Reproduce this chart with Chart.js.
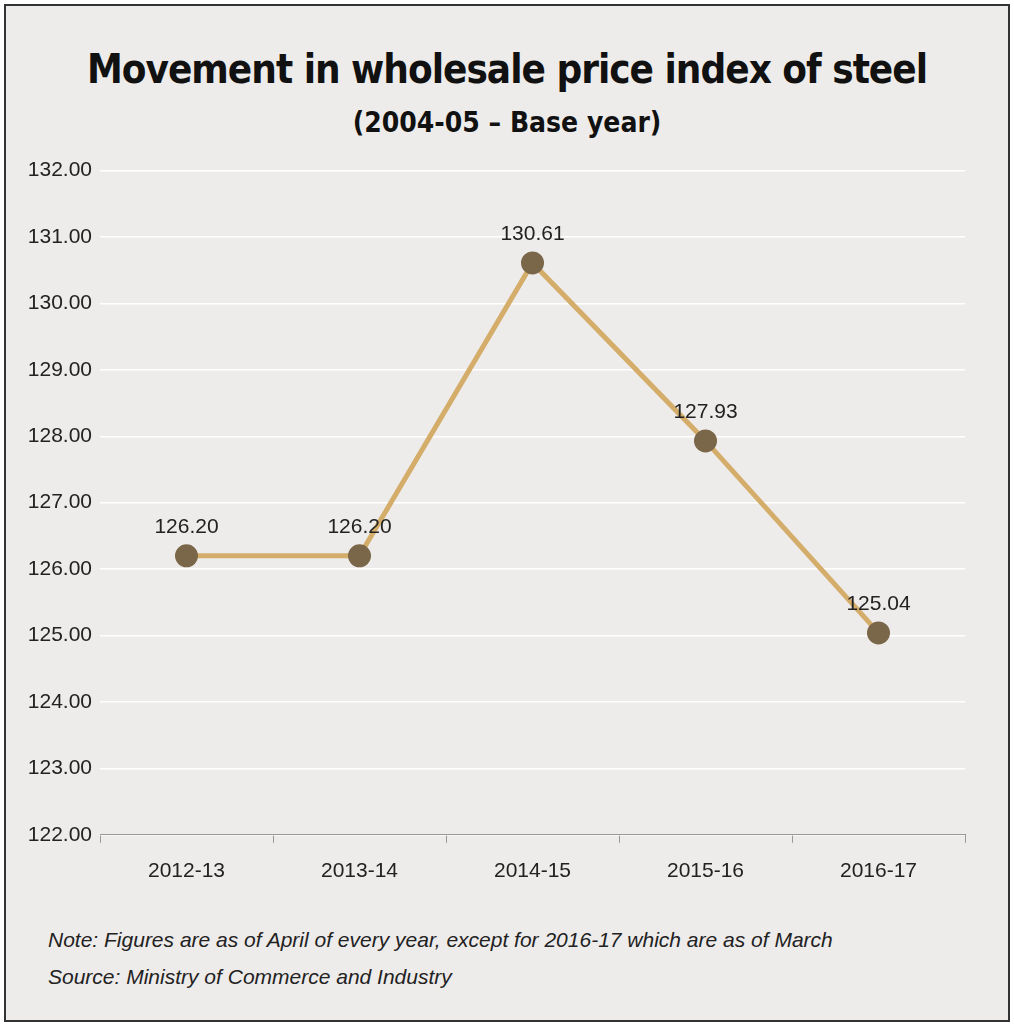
<!DOCTYPE html>
<html>
<head>
<script src="https://cdn.jsdelivr.net/npm/chart.js"></script>
<style>
  body { margin: 0; background: #fff; }
  .frame { position: absolute; left: 4px; top: 4px; width: 1002px; height: 1014px; border: 2px solid #333; background: #eeeceb; }
  h1 { position: absolute; left: 0; width: 1014px; top: 46px; margin: 0; text-align: center; font: bold 40px "DejaVu Sans Condensed", "DejaVu Sans"; letter-spacing: -1px; color: #111; }
  h2 { position: absolute; left: 0; width: 1014px; top: 106px; margin: 0; text-align: center; font: bold 28px "DejaVu Sans Condensed", "DejaVu Sans"; color: #111; }
  .note { position: absolute; left: 48px; font: italic 21px "Liberation Sans", Arial; color: #222; }
  .wrap { position: absolute; left: 0; top: 150px; width: 1014px; height: 750px; }
</style>
</head>
<body>
<div class="frame"></div>
<h1>Movement in wholesale price index of steel</h1>
<h2>(2004-05 – Base year)</h2>
<div class="wrap"><canvas id="c"></canvas></div>
<div class="note" style="top:928px">Note: Figures are as of April of every year, except for 2016-17 which are as of March</div>
<div class="note" style="top:965px">Source: Ministry of Commerce and Industry</div>
<script>
const years = ['2012-13', '2013-14', '2014-15', '2015-16', '2016-17'];
const wpi = [126.20, 126.20, 130.61, 127.93, 125.04];

const valueLabels = {
  id: 'valueLabels',
  afterDatasetsDraw(chart) {
    const ctx = chart.ctx;
    const meta = chart.getDatasetMeta(0);
    ctx.save();
    ctx.font = '21px "Liberation Sans", Arial';
    ctx.fillStyle = '#222';
    ctx.textAlign = 'center';
    ctx.textBaseline = 'bottom';
    meta.data.forEach((p, i) => ctx.fillText(wpi[i].toFixed(2), p.x, p.y - 18));
    ctx.restore();
  }
};

new Chart(document.getElementById('c'), {
  type: 'line',
  data: {
    labels: years,
    datasets: [{
      data: wpi,
      borderColor: '#d4ad6a',
      borderWidth: 5,
      pointBackgroundColor: '#7a6648',
      pointBorderColor: '#7a6648',
      pointRadius: 9,
      tension: 0
    }]
  },
  options: {
    responsive: true,
    maintainAspectRatio: false,
    animation: false,
    layout: { padding: { top: 5, right: 49, left: 0, bottom: 0 } },
    plugins: { legend: { display: false }, tooltip: { enabled: false } },
    scales: {
      x: {
        offset: true,
        grid: { offset: true, drawOnChartArea: false, color: '#999', tickLength: 8 },
        border: { color: '#999' },
        ticks: { color: '#222', font: { size: 21, family: '"Liberation Sans", Arial' }, padding: 16 }
      },
      y: {
        min: 122, max: 132,
        afterFit(s) { s.width = 100; },
        grid: { color: '#fff', lineWidth: 1.5, drawTicks: false },
        border: { display: false },
        ticks: { stepSize: 1, color: '#222', padding: 8, font: { size: 21, family: '"Liberation Sans", Arial' }, callback: v => v.toFixed(2) }
      }
    }
  },
  plugins: [valueLabels]
});
</script>
</body>
</html>
